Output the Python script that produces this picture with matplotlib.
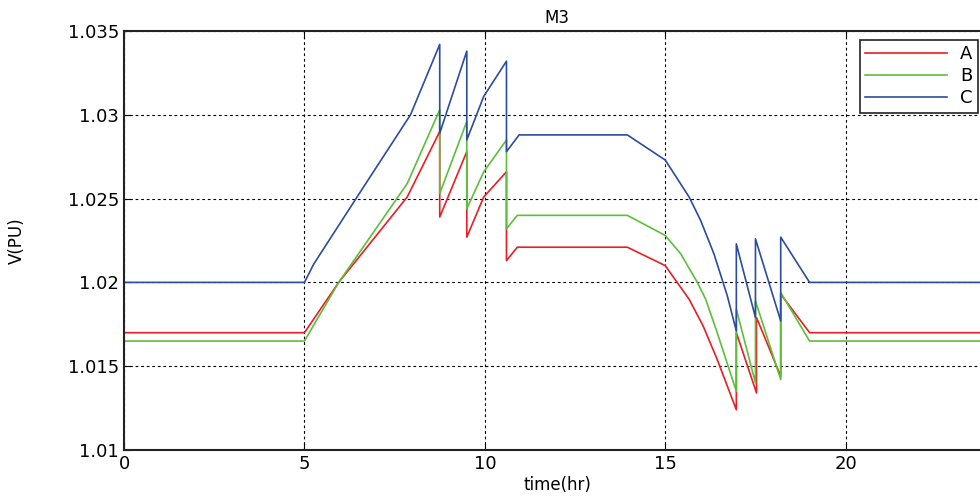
import matplotlib
matplotlib.use("Agg")
import matplotlib.pyplot as plt

# phase voltages at bus M3 over one day
t_a = [0, 5, 5.95, 7.85, 8.75, 8.75, 9.5, 9.5, 9.97, 10.6, 10.6, 10.9, 13.95,
       15.0, 15.33, 15.66, 16.05, 16.44, 16.97, 16.97, 17.53, 17.53, 18.2, 18.2,
       19.0, 24]
v_a = [1.0170, 1.0170, 1.0200, 1.0251, 1.0290, 1.0239, 1.0278, 1.0227, 1.0251,
       1.0266, 1.0213, 1.0221, 1.0221, 1.0210, 1.0200, 1.0190, 1.0174, 1.0154,
       1.0124, 1.0170, 1.0134, 1.0179, 1.0144, 1.0193, 1.0170, 1.0170]

t_b = [0, 5, 5.95, 7.85, 8.75, 8.75, 9.5, 9.5, 9.97, 10.6, 10.6, 10.9, 13.95,
       15.0, 15.43, 15.89, 16.12, 16.44, 16.97, 16.97, 17.5, 17.5, 18.2, 18.2,
       19.0, 24]
v_b = [1.0165, 1.0165, 1.0200, 1.0259, 1.0303, 1.0253, 1.0296, 1.0244, 1.0266,
       1.0285, 1.0232, 1.0240, 1.0240, 1.0228, 1.0217, 1.0200, 1.0190, 1.0170,
       1.0135, 1.0184, 1.0140, 1.0189, 1.0142, 1.0194, 1.0165, 1.0165]

t_c = [0, 5, 5.26, 6.46, 7.94, 8.75, 8.75, 9.5, 9.5, 9.97, 10.6, 10.6, 10.95,
       13.95, 15.0, 15.66, 15.98, 16.35, 16.72, 16.97, 16.97, 17.5, 17.5, 18.2,
       18.2, 19.0, 24]
v_c = [1.0200, 1.0200, 1.0211, 1.0251, 1.0300, 1.0342, 1.0289, 1.0338, 1.0285,
       1.0311, 1.0332, 1.0278, 1.0288, 1.0288, 1.0273, 1.0251, 1.0237, 1.0217,
       1.0192, 1.0171, 1.0223, 1.0179, 1.0226, 1.0177, 1.0227, 1.0200, 1.0200]

plt.rcParams['font.family'] = ['DejaVu Sans']

fig = plt.figure(figsize=(9.8, 4.99), dpi=100)
ax = fig.add_axes([124 / 980, 1 - 450 / 499, 866 / 980, 419 / 499])

ax.plot(t_a, v_a, color='#ec1c24', lw=1.2, label='A')
ax.plot(t_b, v_b, color='#5cbf3a', lw=1.2, label='B')
ax.plot(t_c, v_c, color='#2b4c9f', lw=1.2, label='C')

ax.set_xlim(0, 24)
ax.set_ylim(1.01, 1.035)
ax.set_xticks([0, 5, 10, 15, 20])
ax.set_yticks([1.01, 1.015, 1.02, 1.025, 1.03, 1.035])
ax.set_yticklabels(['1.01', '1.015', '1.02', '1.025', '1.03', '1.035'])
ax.grid(True, color='black', linestyle=(0, (2.5, 2.5)), linewidth=0.8)
ax.tick_params(direction='in', top=True, right=True, length=5, labelsize=13)
for s in ax.spines.values():
    s.set_linewidth(1.5)
    s.set_color('#222222')

ax.set_title('M3', fontsize=12, pad=6)
ax.set_xlabel('time(hr)', fontsize=12, labelpad=2)
ax.set_ylabel('V(PU)', fontsize=12, labelpad=30)

leg = ax.legend(loc='upper right', bbox_to_anchor=(0.986, 0.9785), fontsize=13,
                fancybox=False, framealpha=1, edgecolor='#222222',
                borderaxespad=0, handlelength=4.55, handletextpad=0.7,
                borderpad=0.3, labelspacing=0.22)
leg.get_frame().set_linewidth(1.2)

fig.savefig('out.png', dpi=100)
